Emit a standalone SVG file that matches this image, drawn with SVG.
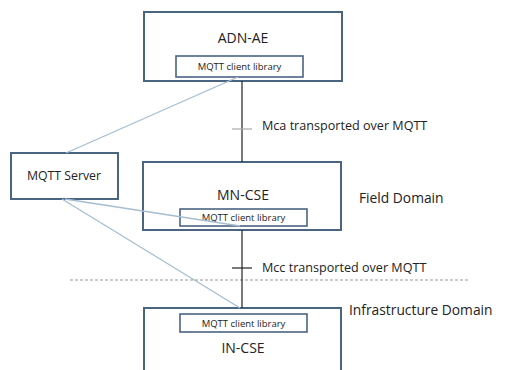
<svg xmlns="http://www.w3.org/2000/svg" width="507" height="370" viewBox="0 0 507 370">
<style>
.box{fill:#fff;stroke:#4a6582;stroke-width:2}
.lib{fill:#fff;stroke:#4a6582;stroke-width:1.6}
.t{font-family:"Open Sans","Liberation Sans",sans-serif;fill:#222}
.big{font-size:14px;text-anchor:middle}
.sm{font-size:9.5px;text-anchor:middle}
.lbl{font-size:12.6px}
.dom{font-size:13.8px}
.gl{stroke:#a6bdd1;stroke-width:1.3;fill:none}
.bl{stroke:#222;stroke-width:1.2;fill:none}
</style>
<rect width="507" height="370" fill="#fff"/>
<line x1="70" y1="280" x2="470" y2="280" stroke="#999" stroke-width="1" stroke-dasharray="3,2"/>
<g id="adn-ae">
<rect class="box" x="144" y="12" width="198" height="69"/>
<text class="t big" x="243" y="43">ADN-AE</text>
<rect class="lib" x="176" y="56" width="127" height="21"/>
<text class="t sm" x="239.5" y="70">MQTT client library</text>
</g>
<g id="mqtt-server">
<rect class="box" x="11" y="153" width="107" height="46"/>
<text class="t" x="64" y="180" font-size="12.3" text-anchor="middle">MQTT Server</text>
</g>
<g id="mn-cse">
<rect class="box" x="143" y="162" width="198" height="68"/>
<text class="t big" x="243" y="200">MN-CSE</text>
<rect class="lib" x="180" y="209" width="127" height="17"/>
<text class="t sm" x="243.5" y="221">MQTT client library</text>
</g>
<g id="in-cse">
<rect class="box" x="144" y="308" width="197" height="70"/>
<rect class="lib" x="180" y="314" width="127" height="18"/>
<text class="t sm" x="243.5" y="327">MQTT client library</text>
<text class="t big" x="243" y="353">IN-CSE</text>
</g>
<g id="connectors">
<line class="bl" x1="242" y1="81" x2="242" y2="162"/>
<line x1="232" y1="129" x2="252" y2="129" stroke="#aaa" stroke-width="1.2"/>
<line class="bl" x1="242" y1="230" x2="242" y2="308"/>
<line class="bl" x1="232" y1="268" x2="252" y2="268"/>
<line class="gl" x1="66" y1="153" x2="238" y2="77"/>
<line class="gl" x1="65" y1="199" x2="240" y2="226"/>
<line class="gl" x1="62" y1="199" x2="240" y2="308"/>
</g>
<text class="t lbl" x="262" y="130">Mca transported over MQTT</text>
<text class="t lbl" x="262" y="272">Mcc transported over MQTT</text>
<text class="t dom" x="359" y="203">Field Domain</text>
<text class="t dom" x="349" y="315">Infrastructure Domain</text>
</svg>
